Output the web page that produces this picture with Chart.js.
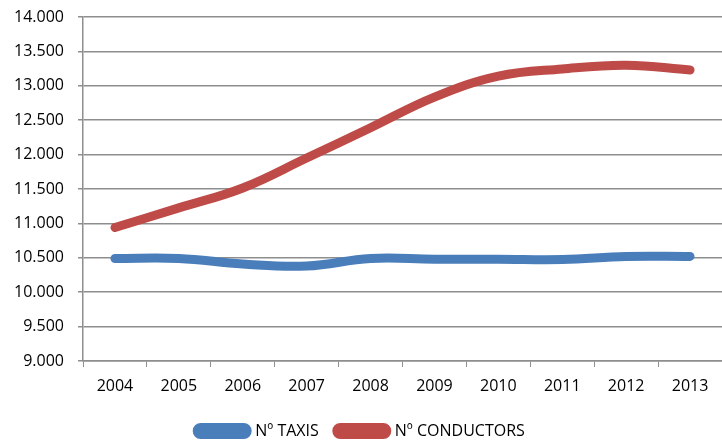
<!DOCTYPE html>
<html>
<head>
<meta charset="utf-8">
<script src="https://cdn.jsdelivr.net/npm/chart.js@4/dist/chart.umd.min.js"></script>
<style>
  body { margin: 0; background: #fff; }
  #wrap { width: 722px; height: 441px; }
</style>
</head>
<body>
<div id="wrap"><canvas id="chart"></canvas></div>
<script>
"use strict"

const years = ["2004", "2005", "2006", "2007", "2008", "2009", "2010", "2011", "2012", "2013"];
const taxis = [10490, 10490, 10410, 10380, 10490, 10480, 10480, 10475, 10520, 10520];
const conductors = [10940, 11225, 11515, 11950, 12390, 12835, 13140, 13245, 13300, 13230];

const fmt = (v) => String(v).replace(/\B(?=(\d{3})+(?!\d))/g, ".");

Chart.defaults.font.family = "'Open Sans', 'Liberation Sans', sans-serif";
Chart.defaults.font.size = 16;
Chart.defaults.color = "#000";

const gridGray = "#8e8e8e";

new Chart(document.querySelector("#chart"), {
  type: "line",
  data: {
    labels: years,
    datasets: [
      {
        label: "Nº TAXIS",
        data: taxis,
        borderColor: "#4a7ebb",
        backgroundColor: "#4a7ebb",
        borderWidth: 9,
        borderCapStyle: "round",
        pointRadius: 0,
        tension: 0.4,
      },
      {
        label: "Nº CONDUCTORS",
        data: conductors,
        borderColor: "#be4b48",
        backgroundColor: "#be4b48",
        borderWidth: 9,
        borderCapStyle: "round",
        pointRadius: 0,
        tension: 0.4,
      },
    ],
  },
  options: {
    responsive: true,
    maintainAspectRatio: false,
    animation: false,
    layout: { padding: { top: 17, right: 0, left: 0, bottom: -8 } },
    plugins: {
      tooltip: { enabled: false },
      legend: {
        position: "bottom",
        labels: {
          boxWidth: 50,
          boxHeight: 7,
          useBorderRadius: true,
          borderRadius: 3.5,
          padding: 18,
        },
      },
    },
    scales: {
      x: {
        offset: true,
        grid: {
          offset: true,
          drawOnChartArea: false,
          color: gridGray,
          tickLength: 6,
        },
        border: { color: gridGray, width: 1.5 },
        ticks: { padding: 10, maxRotation: 0 },
        afterFit: (s) => { s.height = 44; },
      },
      y: {
        min: 9000,
        max: 14000,
        grid: { color: gridGray, lineWidth: 1.5, tickLength: 5 },
        border: { color: gridGray, width: 1.5 },
        ticks: {
          stepSize: 500,
          padding: 14,
          callback: (v) => fmt(v),
        },
        afterFit: (s) => {
          s.width = 83;
          s.paddingTop = 0;
          s.paddingBottom = 0;
        },
      },
    },
  },
});
</script>
</body>
</html>
